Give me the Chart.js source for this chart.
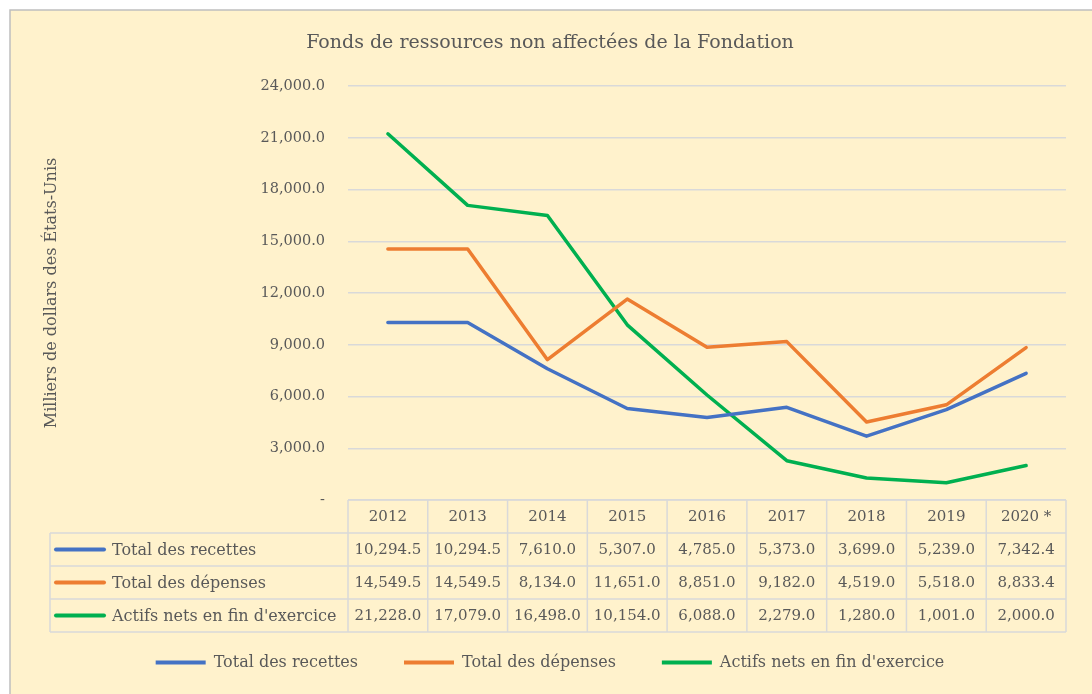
<!DOCTYPE html>
<html>
<head>
<meta charset="utf-8">
<script src="https://cdn.jsdelivr.net/npm/chart.js@4.4.1/dist/chart.umd.min.js"></script>
<style>
  html, body { margin: 0; padding: 0; background: #fff; }
</style>
</head>
<body>
<canvas id="chart" width="1092" height="694"></canvas>
<script>
const years = ['2012', '2013', '2014', '2015', '2016', '2017', '2018', '2019', '2020 *']
const recettes = [10294.5, 10294.5, 7610.0, 5307.0, 4785.0, 5373.0, 3699.0, 5239.0, 7342.4]
const depenses = [14549.5, 14549.5, 8134.0, 11651.0, 8851.0, 9182.0, 4519.0, 5518.0, 8833.4]
const actifs = [21228.0, 17079.0, 16498.0, 10154.0, 6088.0, 2279.0, 1280.0, 1001.0, 2000.0]
const seriesNames = ['Total des recettes', 'Total des dépenses', "Actifs nets en fin d'exercice"]
const seriesColors = ['#4472C4', '#ED7D31', '#00B050']

const FONT = "'DejaVu Serif', serif"
const TEXT = '#595959'
const LINE = '#D9D9D9'

const fmt = v => v === 0 ? '-' : v.toLocaleString('en-US', { minimumFractionDigits: 1, maximumFractionDigits: 1 })

const background = {
	id: 'background',
	beforeDraw(chart) {
		const { ctx, width, height } = chart
		ctx.save()
		ctx.fillStyle = '#fff'
		ctx.fillRect(0, 0, width, height)
		ctx.fillStyle = '#FFF2CC'
		ctx.fillRect(10, 10, width - 10, height - 10)
		ctx.strokeStyle = '#BFBFBF'
		ctx.lineWidth = 1.5
		ctx.beginPath()
		ctx.moveTo(10, height)
		ctx.lineTo(10, 10)
		ctx.lineTo(width, 10)
		ctx.stroke()
		ctx.restore()
	},
}

// data table under the plot, aligned on the category bands
const dataTable = {
	id: 'dataTable',
	afterDraw(chart) {
		const { ctx, chartArea: a, scales: { x } } = chart
		const band = (a.right - a.left) / years.length
		const rowH = 33
		const top = a.bottom
		const left = 50
		const rows = [recettes, depenses, actifs]
		ctx.save()
		ctx.strokeStyle = LINE
		ctx.lineWidth = 1.5
		ctx.beginPath()
		ctx.moveTo(a.left, top)
		ctx.lineTo(a.right, top)
		for (let r = 1; r <= 4; r++) {
			ctx.moveTo(left, top + r * rowH)
			ctx.lineTo(a.right, top + r * rowH)
		}
		for (let i = 0; i <= years.length; i++) {
			const px = a.left + i * band
			ctx.moveTo(px, top)
			ctx.lineTo(px, top + 4 * rowH)
		}
		ctx.moveTo(left, top + rowH)
		ctx.lineTo(left, top + 4 * rowH)
		ctx.stroke()

		ctx.fillStyle = TEXT
		ctx.font = '15px ' + FONT
		ctx.textBaseline = 'middle'
		ctx.textAlign = 'center'
		years.forEach((y, i) => {
			ctx.fillText(y, x.getPixelForValue(i), top + rowH / 2 + 1)
		})
		rows.forEach((vals, r) => {
			const cy = top + (r + 1) * rowH + rowH / 2 + 1
			vals.forEach((v, i) => {
				ctx.fillText(fmt(v), x.getPixelForValue(i), cy)
			})
		})
		ctx.textAlign = 'left'
		ctx.font = '16px ' + FONT
		rows.forEach((vals, r) => {
			const cy = top + (r + 1) * rowH + rowH / 2
			ctx.strokeStyle = seriesColors[r]
			ctx.lineWidth = 4
			ctx.lineCap = 'round'
			ctx.beginPath()
			ctx.moveTo(56, cy)
			ctx.lineTo(104, cy)
			ctx.stroke()
			ctx.fillText(seriesNames[r], 112, cy + 1)
		})
		ctx.restore()
	},
}

const makeSet = (label, data, color) => ({
	label,
	data,
	borderColor: color,
	backgroundColor: color,
	borderWidth: 3.5,
	pointRadius: 0,
	tension: 0,
	borderJoinStyle: 'round',
	borderCapStyle: 'round',
})

new Chart(document.getElementById('chart'), {
	type: 'line',
	data: {
		labels: years,
		datasets: [
			makeSet(seriesNames[0], recettes, seriesColors[0]),
			makeSet(seriesNames[1], depenses, seriesColors[1]),
			makeSet(seriesNames[2], actifs, seriesColors[2]),
		],
	},
	options: {
		responsive: false,
		animation: false,
		layout: {
			padding: { left: 8, right: 0, top: 0, bottom: 13.5 },
		},
		plugins: {
			title: {
				display: true,
				text: 'Fonds de ressources non affectées de la Fondation',
				color: TEXT,
				font: { family: FONT, size: 19, weight: 'normal' },
				padding: { top: 32, bottom: 31.2 },
			},
			legend: {
				position: 'bottom',
				labels: {
					boxWidth: 50,
					boxHeight: 4,
					padding: 46,
					color: TEXT,
					font: { family: FONT, size: 16 },
					generateLabels: chart => chart.data.datasets.map((d, i) => ({
						text: d.label,
						fillStyle: d.borderColor,
						strokeStyle: d.borderColor,
						lineWidth: 0,
						fontColor: TEXT,
						datasetIndex: i,
					})),
				},
			},
			tooltip: { enabled: false },
		},
		scales: {
			x: {
				offset: true,
				grid: { display: false },
				border: { display: false },
				ticks: { display: false },
				afterFit: s => { s.height = 108.5 },
			},
			y: {
				min: 0,
				max: 24000,
				ticks: {
					stepSize: 3000,
					padding: 23,
					color: TEXT,
					font: { family: FONT, size: 14.5 },
					callback: v => fmt(v),
				},
				grid: { color: LINE, lineWidth: 1.5, drawTicks: false },
				border: { display: false },
				title: {
					display: true,
					text: 'Milliers de dollars des États-Unis',
					color: TEXT,
					font: { family: FONT, size: 16 },
					padding: { top: 34.4, bottom: 0 },
				},
				afterFit: s => { s.width = 340 },
			},
			// empty right-hand axis that keeps the right margin
			y2: {
				position: 'right',
				display: true,
				grid: { display: false },
				border: { display: false },
				ticks: { display: false },
				afterFit: s => { s.width = 26 },
			},
		},
	},
	plugins: [background, dataTable],
})
</script>
</body>
</html>
